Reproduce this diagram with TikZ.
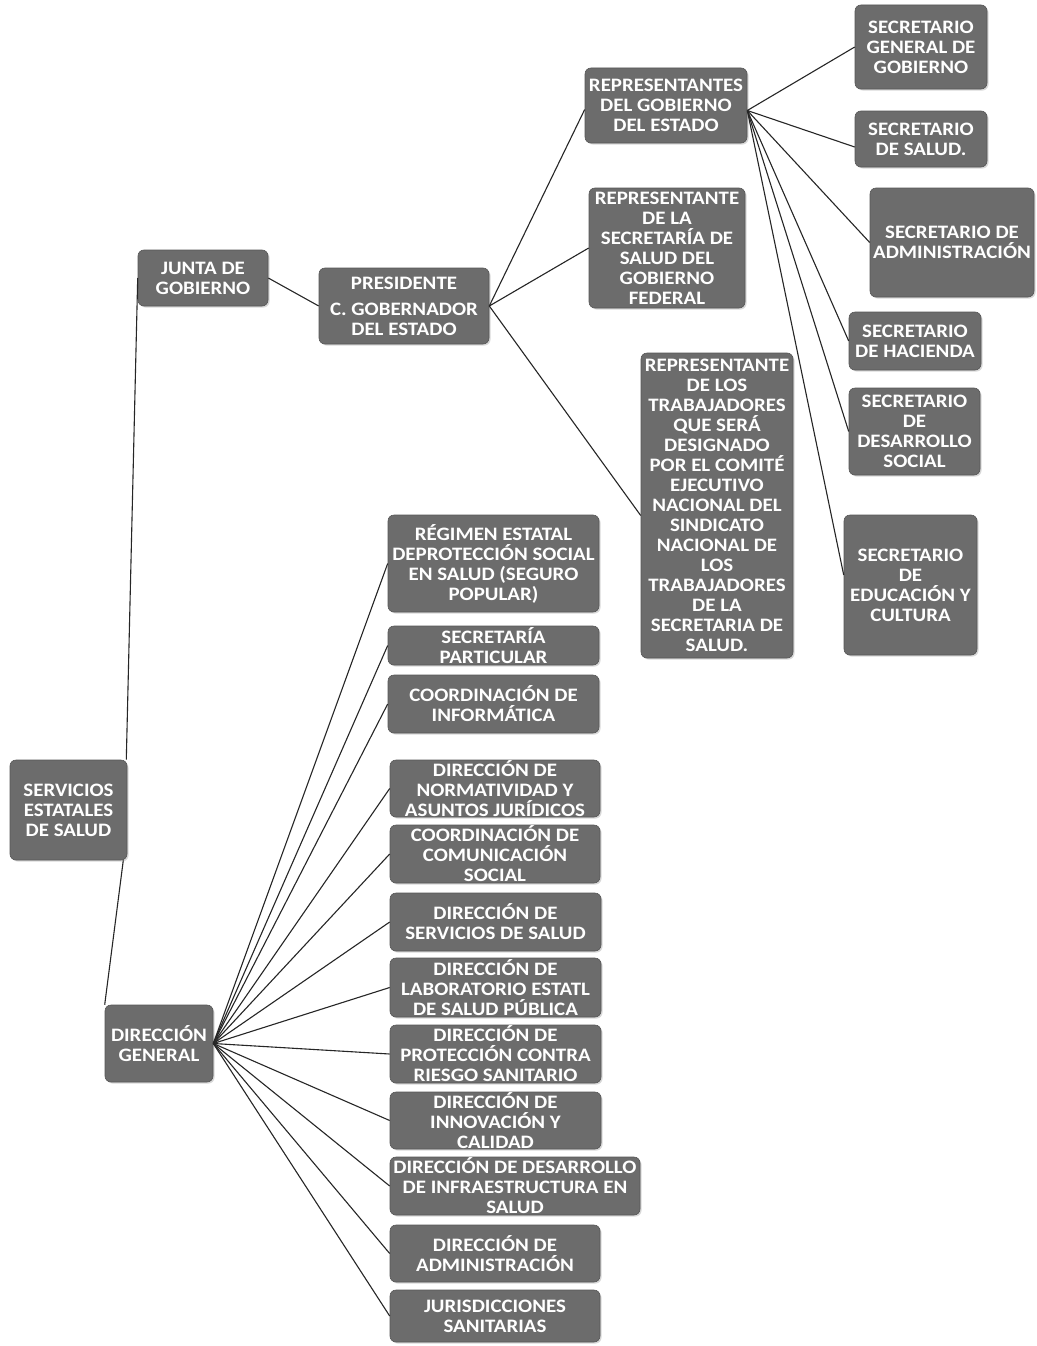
\documentclass[tikz,border=0pt]{standalone}
\usepackage{fontspec}
\setmainfont{Carlito}[FakeStretch=1.10]
\usetikzlibrary{shadows}
\definecolor{boxgray}{HTML}{6C6C6C}
\definecolor{linegray}{HTML}{262626}
\tikzset{
  ob/.style={draw=boxgray!80!black, line width=0.6pt, fill=boxgray, rounded corners=6pt,
    inner sep=0pt, align=center, text=white,
    font=\fontsize{19}{20}\selectfont\bfseries,
    drop shadow={opacity=0.3, shadow xshift=1.5pt, shadow yshift=-1.5pt}},
  conn/.style={draw=linegray, line width=1.1pt}
}
\newcommand\orgbox[6]{%
  \node[ob, minimum width={(#4-#2)*1pt}, minimum height={(#5-#3)*1pt}]
    (#1) at ({(#2+#4)/2*1pt},{-(#3+#5)/2*1pt}) {#6};}
\begin{document}
\begin{tikzpicture}
\fill[white] (0,0) rectangle (1036pt,-1346pt);
\useasboundingbox (0,0) rectangle (1036pt,-1346pt);

\orgbox{serv}{10}{760}{127}{860}{SERVICIOS\\ESTATALES\\DE SALUD}
\orgbox{junta}{138}{250}{268}{306}{JUNTA DE\\GOBIERNO}
\orgbox{pres}{319}{268}{489}{344}{PRESIDENTE\\[6pt]C. GOBERNADOR\\DEL ESTADO}
\orgbox{repgob}{585}{68}{747}{143}{REPRESENTANTES\\DEL GOBIERNO\\DEL ESTADO}
\orgbox{repsec}{589}{188}{745}{308}{REPRESENTANTE\\DE LA\\SECRETARÍA DE\\SALUD DEL\\GOBIERNO\\FEDERAL}
\orgbox{reptrab}{641}{353}{793}{658}{REPRESENTANTE\\DE LOS\\TRABAJADORES\\QUE SERÁ\\DESIGNADO\\POR EL COMITÉ\\EJECUTIVO\\NACIONAL DEL\\SINDICATO\\NACIONAL DE\\LOS\\TRABAJADORES\\DE LA\\SECRETARIA DE\\SALUD.}
\orgbox{secgen}{855}{5}{987}{89}{SECRETARIO\\GENERAL DE\\GOBIERNO}
\orgbox{secsal}{855}{111}{987}{167}{SECRETARIO\\DE SALUD.}
\orgbox{secadm}{870}{188}{1034}{297}{SECRETARIO DE\\ADMINISTRACIÓN}
\orgbox{sechac}{849}{312}{981}{370}{SECRETARIO\\DE HACIENDA}
\orgbox{secdes}{849}{388}{980}{475}{SECRETARIO\\DE\\DESARROLLO\\SOCIAL}
\orgbox{secedu}{844}{515}{977}{655}{SECRETARIO\\DE\\EDUCACIÓN Y\\CULTURA}

\orgbox{dirgen}{105}{1005}{213}{1082}{DIRECCIÓN\\GENERAL}
\orgbox{regimen}{388}{515}{599}{612}{RÉGIMEN ESTATAL\\DEPROTECCIÓN SOCIAL\\EN SALUD (SEGURO\\POPULAR)}
\orgbox{secpar}{388}{626}{599}{665}{SECRETARÍA\\PARTICULAR}
\orgbox{coordinf}{388}{675}{599}{733}{COORDINACIÓN DE\\INFORMÁTICA}
\orgbox{norm}{390}{760}{600}{817}{DIRECCIÓN DE\\NORMATIVIDAD Y\\ASUNTOS JURÍDICOS}
\orgbox{comun}{390}{825}{600}{883}{COORDINACIÓN DE\\COMUNICACIÓN\\SOCIAL}
\orgbox{servsal}{390}{893}{601}{951}{DIRECCIÓN DE\\SERVICIOS DE SALUD}
\orgbox{lab}{390}{958}{601}{1017}{DIRECCIÓN DE\\LABORATORIO ESTATL\\DE SALUD PÚBLICA}
\orgbox{prot}{390}{1025}{601}{1083}{DIRECCIÓN DE\\PROTECCIÓN CONTRA\\RIESGO SANITARIO}
\orgbox{innov}{390}{1092}{601}{1149}{DIRECCIÓN DE\\INNOVACIÓN Y\\CALIDAD}
\orgbox{infra}{390}{1157}{640}{1215}{DIRECCIÓN DE DESARROLLO\\DE INFRAESTRUCTURA EN\\SALUD}
\orgbox{adm}{390}{1225}{600}{1282}{DIRECCIÓN DE\\ADMINISTRACIÓN}
\orgbox{juris}{390}{1290}{600}{1342}{JURISDICCIONES\\SANITARIAS}

\draw[conn] ([xshift=-1pt]serv.north east) -- (junta.west);
\draw[conn] ([xshift=-4pt]serv.south east) -- (dirgen.north west);
\draw[conn] (junta.east) -- (pres.west);
\draw[conn] (pres.east) -- ([yshift=-4pt]repgob.west);
\draw[conn] (pres.east) -- (repsec.west);
\draw[conn] (pres.east) -- ([yshift=-10pt]reptrab.west);
\foreach \t/\dy in {secgen/0, secsal/-8, secadm/0, sechac/0, secdes/0, secedu/10}
  \draw[conn] ([yshift=-5pt]repgob.east) -- ([yshift=\dy pt]\t.west);
\foreach \t in {regimen, secpar, coordinf, norm, comun, servsal, lab, prot, innov, infra, adm, juris}
  \draw[conn] (dirgen.east) -- (\t.west);
\end{tikzpicture}
\end{document}
